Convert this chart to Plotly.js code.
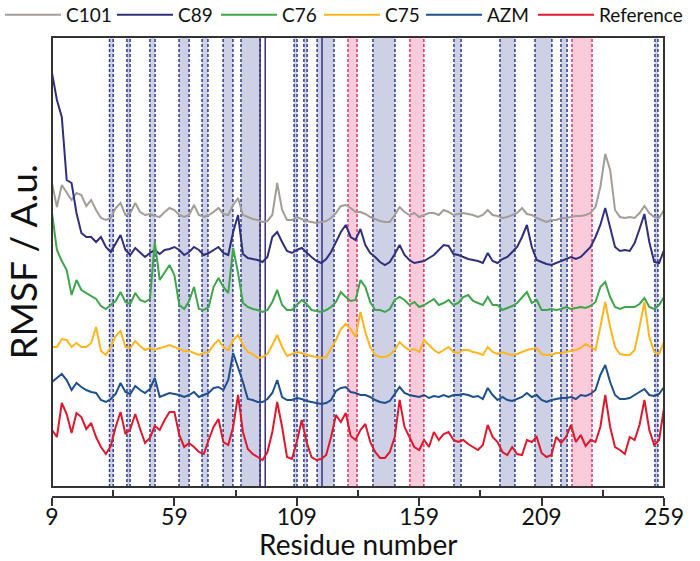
<!DOCTYPE html>
<html><head><meta charset="utf-8">
<script src="https://cdn.plot.ly/plotly-3.0.1.min.js"></script>
<style>html,body{margin:0;padding:0;background:#fff}#chart{width:700px;height:561px}</style>
</head><body><div id="chart"></div>
<script>
// residue numbers (every second residue)
const residues = [9,11,13,15,17,19,21,23,25,27,29,31,33,35,37,39,41,43,45,47,49,51,53,55,57,59,61,63,65,67,69,71,73,75,77,79,81,83,85,87,89,91,93,95,97,99,101,103,105,107,109,111,113,115,117,119,121,123,125,127,129,131,133,135,137,139,141,143,145,147,149,151,153,155,157,159,161,163,165,167,169,171,173,175,177,179,181,183,185,187,189,191,193,195,197,199,201,203,205,207,209,211,213,215,217,219,221,223,225,227,229,231,233,235,237,239,241,243,245,247,249,251,253,255,257,259];

// stacked RMSF profiles (arbitrary units, offset as in the original figure)
const c101 = [304,280,302,295,287,294,292,281,287,277, 269,267,269,279,284,272,274,284,275,272, 273,271,270,275,279,277,272,270,272,282, 272,270,272,275,279,273,272,282,289,272, 270,268,267,265,266,272,304,277,267,267, 270,268,266,265,264,265,266,269,274,281, 282,279,275,275,273,270,268,266,265,265, 272,280,275,272,274,270,272,274,274,272, 277,275,272,273,274,273,272,270,272,277, 272,271,269,270,272,274,279,273,272,269, 267,265,267,267,269,269,270,271,271,272, 274,280,300,333,317,277,270,269,270,269, 274,281,274,270,269,277];
const c89 = [414,387,370,307,304,274,254,250,250,245, 250,240,235,244,252,237,232,239,234,230, 234,237,233,237,238,240,237,232,235,240, 237,232,234,237,240,234,232,255,272,233, 229,228,227,225,230,250,255,245,236,234, 237,239,234,230,226,224,228,235,245,255, 262,250,247,258,242,234,230,225,222,225, 233,242,232,227,224,225,226,229,232,237, 242,241,233,232,230,228,227,226,224,234, 226,224,228,230,235,240,250,262,240,227, 225,223,222,224,226,228,230,228,230,235, 240,250,262,279,260,240,236,237,236,244, 258,273,245,225,224,237];
const c76 = [274,237,226,217,192,207,197,194,191,188, 181,178,182,186,195,185,183,194,187,185, 188,245,207,215,222,212,182,178,186,200, 178,177,180,200,209,200,194,239,214,184, 180,178,177,175,177,185,197,182,177,177, 182,187,183,177,176,175,177,180,185,195, 190,186,187,207,200,185,177,177,175,178, 187,190,187,182,185,180,182,185,188,182, 184,187,182,184,190,192,186,184,182,190, 182,182,177,179,181,184,190,195,184,187, 177,177,178,177,178,180,178,179,180,179, 181,185,200,205,190,180,178,180,180,180, 183,189,180,178,182,190];
const c75 = [140,140,148,147,140,144,140,140,144,160, 136,132,140,151,156,140,139,146,141,137, 139,137,139,140,142,140,138,136,136,134, 132,134,135,142,147,140,137,147,152,142, 135,133,129,130,133,142,152,140,131,133, 135,134,132,131,130,129,130,138,147,158, 163,158,150,175,155,140,132,130,130,132, 137,145,140,137,138,135,147,142,137,134, 137,140,135,134,137,137,135,134,132,140, 135,133,135,133,132,133,135,137,138,139, 133,132,132,134,134,135,136,137,139,143, 140,137,160,185,160,140,133,132,132,137, 160,185,150,135,133,145];
const azm = [105,109,113,107,97,104,100,97,95,94, 87,85,88,93,104,95,93,101,97,94, 98,109,90,92,94,93,92,90,92,95, 90,92,94,99,100,97,107,134,120,105, 88,87,85,85,88,94,107,90,87,87, 89,88,86,85,84,83,84,87,96,99, 100,95,94,92,92,90,87,85,84,86, 93,100,94,92,91,90,92,89,91,90, 92,90,92,92,93,92,90,91,88,99, 92,87,90,87,86,88,90,94,90,92, 87,85,87,88,89,89,90,88,92,91, 93,97,112,122,105,92,88,88,89,92, 95,98,92,91,93,100];
const reference = [57,50,84,73,54,74,70,58,64,50, 40,33,41,60,75,53,58,73,58,44, 49,61,57,67,75,75,52,40,44,40, 35,33,47,60,68,45,42,60,92,55, 38,33,30,27,35,55,85,60,30,28, 45,67,45,30,27,28,32,50,72,65, 74,51,47,57,63,45,35,29,29,35, 50,87,60,50,40,37,47,40,55,47, 53,55,47,45,47,43,40,37,42,62, 50,45,35,32,40,33,32,47,45,50, 34,30,32,50,44,50,62,45,52,41, 47,45,60,92,60,40,37,33,50,47, 62,87,57,42,47,79];

const seriesNames = ['C101','C89','C76','C75','AZM','Reference'];
const seriesData = [c101, c89, c76, c75, azm, reference];
const seriesColors = ['#a39d97','#2f2f7c','#3fa54b','#ffb61e','#1f4f8d','#e0182d'];

// highlighted regions (residue ranges)
const blueBandStart = [32.5,39.6,49.0,60.9,70.3,78.9,86.2,107.9,111.9,117.3,140.1,173.2,192.0,206.3,216.9,255.3];
const blueBandEnd   = [34.0,40.9,51.1,65.0,72.7,82.9,94.0,109.1,113.2,124.2,149.1,176.1,198.1,213.2,219.4,256.5];
const pinkBandStart = [129.9,155.2,221.4];
const pinkBandEnd   = [133.6,160.9,229.6];
const solidMarks = [94.0,96.1,119.3];

const xTicks = [9,59,109,159,209,259];
const xMinorTicks = [34,84,134,184,234];
const xTitle = 'Residue number';
const yTitle = 'RMSF / A.u.';

const FONT = 'Lato, "Open Sans", sans-serif';
// one legend box per series so that the entries sit in a single row like the original
const legendIds = ['legend','legend2','legend3','legend4','legend5','legend6'];
const legendLeftPx = [-2,112,216,319,421,533];

const traces = seriesNames.map((n,i)=>({
  x: residues, y: seriesData[i], type:'scatter', mode:'lines', name:n, legend: legendIds[i],
  line:{color:seriesColors[i], width:2}
}));

const shapes = [];
function band(x0,x1,fill,edge){
  shapes.push({type:'rect',xref:'x',yref:'y domain',x0:x0,x1:x1,y0:0,y1:1,fillcolor:fill,line:{width:0},layer:'below'});
  [x0,x1].forEach(v=>shapes.push({type:'line',xref:'x',yref:'y domain',x0:v,x1:v,y0:0,y1:1,line:{color:edge,width:1.5,dash:'3px,2px'},layer:'below'}));
}
blueBandStart.forEach((s,i)=>band(s,blueBandEnd[i],'rgba(190,192,222,0.75)','#2e3a8e'));
pinkBandStart.forEach((s,i)=>band(s,pinkBandEnd[i],'rgba(248,190,210,0.8)','#e3306a'));
solidMarks.forEach(v=>shapes.push({type:'line',xref:'x',yref:'y domain',x0:v,x1:v,y0:0,y1:1,line:{color:'#3a2f80',width:1.5},layer:'below'}));
shapes.push({type:'rect',xref:'x domain',yref:'y domain',x0:0,x1:1,y0:0,y1:1,line:{color:'#333',width:2},fillcolor:'rgba(0,0,0,0)',layer:'above'});

const layout = {
  width:700, height:561,
  margin:{l:52, r:36, t:37, b:64, autoexpand:false},
  paper_bgcolor:'#fff', plot_bgcolor:'#fff',
  font:{family:FONT, color:'#111'},
  showlegend:true,
  xaxis:{range:[9,259], anchor:'free', position:0, automargin:false, tickmode:'array', tickvals:xTicks, ticktext:xTicks.map(String),
    ticks:'outside', ticklen:8, tickwidth:2, tickcolor:'#333', showline:true, linecolor:'#333', linewidth:2,
    showgrid:false, zeroline:false, tickfont:{size:23, family:FONT}, ticklabelstandoff:-9,
    minor:{tickvals:xMinorTicks, ticks:'inside', ticklen:6, tickwidth:2, tickcolor:'#333', showgrid:false}},
  yaxis:{range:[0,450], domain:[10/460,1], automargin:false, showticklabels:false, ticks:'', showgrid:false, zeroline:false, showline:false,
    title:{text:yTitle, font:{size:37, family:FONT}, standoff:6}},
  annotations:[{text:xTitle, xref:'paper', yref:'paper', x:0.5, y:-(544-497)/460, xanchor:'center', yanchor:'middle',
    showarrow:false, font:{size:28, family:FONT, color:'#111'}}],
  shapes: shapes
};
legendIds.forEach((id,i)=>{
  layout[id] = {orientation:'h', xref:'container', yref:'container', x:legendLeftPx[i]/700, xanchor:'left',
    y:1-15/561, yanchor:'middle', font:{size:19, family:FONT}, itemwidth:56, bgcolor:'rgba(0,0,0,0)'};
});
Plotly.newPlot('chart', traces, layout, {displayModeBar:false, staticPlot:true});
</script></body></html>
